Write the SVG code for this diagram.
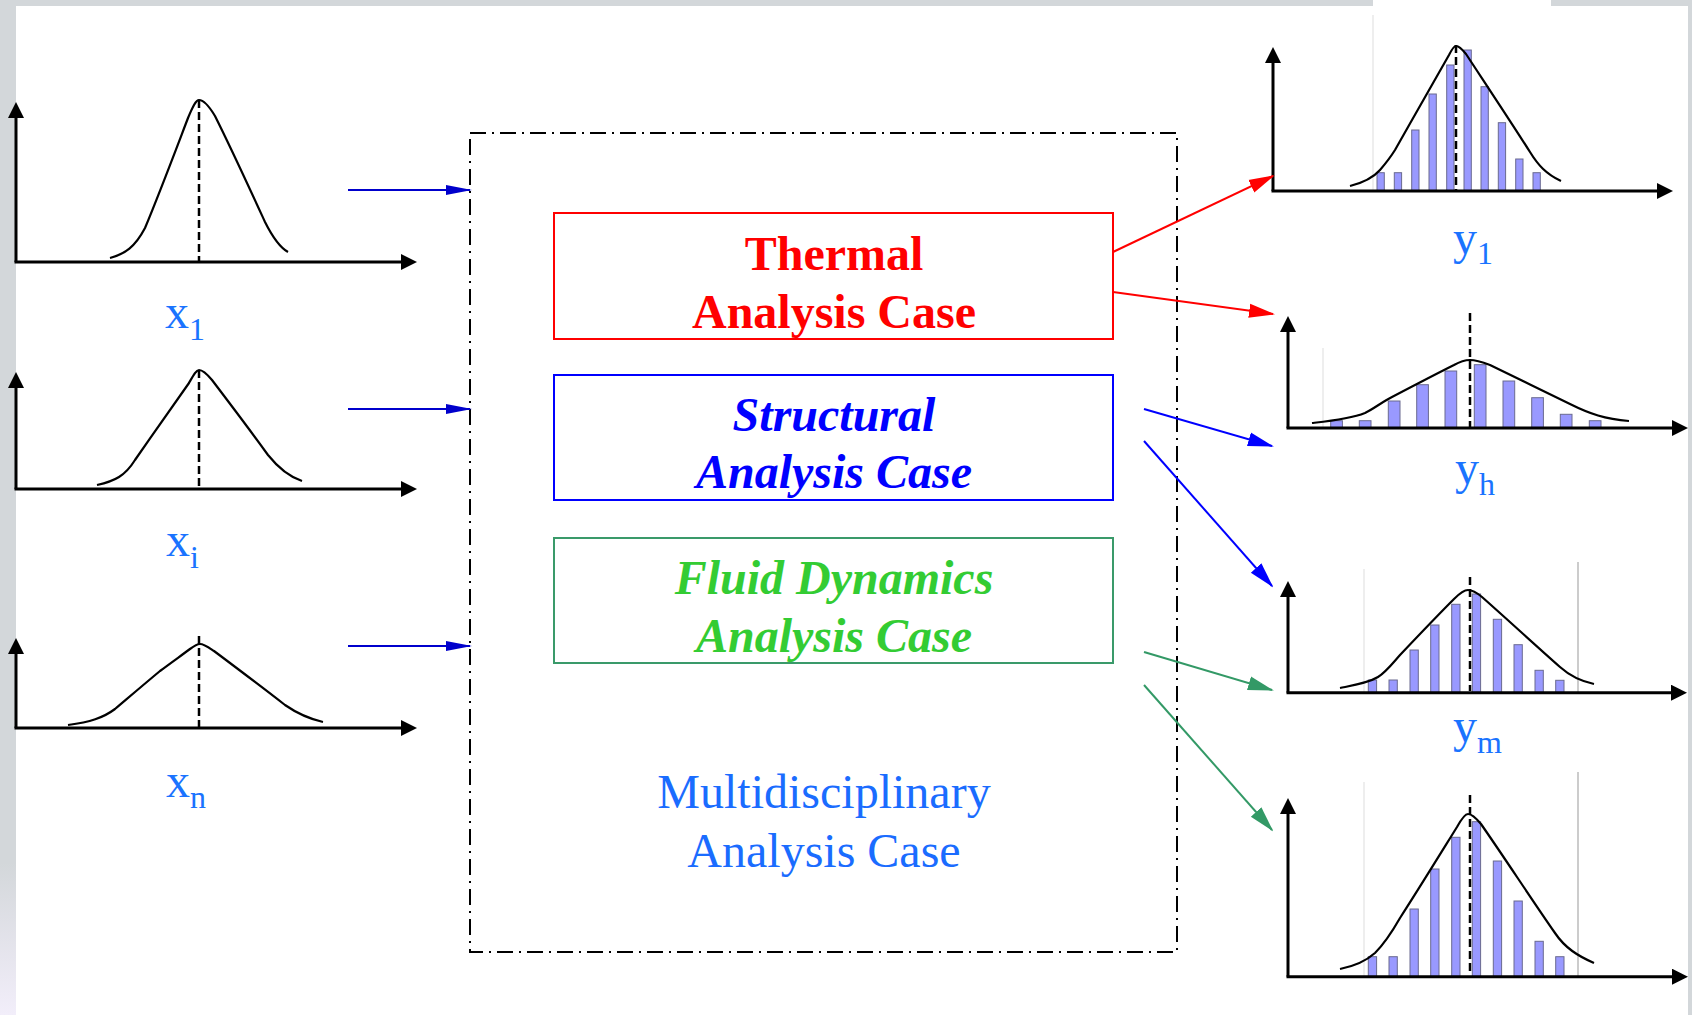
<svg xmlns="http://www.w3.org/2000/svg" width="1692" height="1015" viewBox="0 0 1692 1015">
<style>
.axis{stroke:#000;stroke-width:3;fill:none}
.curve{stroke:#000;stroke-width:2.2;fill:none;stroke-linejoin:round}
.mean{stroke:#000;stroke-width:2.5;stroke-dasharray:8 4;fill:none}
.grid{stroke:#dddddd;stroke-width:1}
.grid2{stroke:#999999;stroke-width:1}
.bar{fill:#9999ff;stroke:#6a6a90;stroke-width:1}
.lbl{font-family:"Liberation Serif","Times New Roman",serif;font-size:48px;fill:#1a73ff}
.sub{font-size:32px}
.case{font-family:"Liberation Serif","Times New Roman",serif;font-size:48px;text-anchor:middle}
.in{stroke:#0000cc;stroke-width:2;fill:none}
</style>
<defs>
<linearGradient id="side" x1="0" y1="0" x2="0" y2="1">
<stop offset="0" stop-color="#d3d7da"/>
<stop offset="0.85" stop-color="#d3d7da"/>
<stop offset="1" stop-color="#f2eefa"/>
</linearGradient>
<marker id="ax" markerUnits="userSpaceOnUse" markerWidth="16" markerHeight="16" refX="12" refY="8" orient="auto"><path d="M0,0 L16,8 L0,16 z" fill="#000"/></marker>
<marker id="ain" markerUnits="userSpaceOnUse" markerWidth="26" markerHeight="12" refX="24" refY="6" orient="auto"><path d="M0,1 L26,6 L0,11 z" fill="#0000cc"/></marker>
<marker id="ared" markerUnits="userSpaceOnUse" markerWidth="26" markerHeight="16" refX="24" refY="8" orient="auto"><path d="M0,1 L26,8 L0,15 z" fill="#ff0000"/></marker>
<marker id="ablue" markerUnits="userSpaceOnUse" markerWidth="26" markerHeight="16" refX="24" refY="8" orient="auto"><path d="M0,1 L26,8 L0,15 z" fill="#0000ff"/></marker>
<marker id="agreen" markerUnits="userSpaceOnUse" markerWidth="26" markerHeight="16" refX="24" refY="8" orient="auto"><path d="M0,1 L26,8 L0,15 z" fill="#339966"/></marker>
</defs>

<!-- background -->
<rect x="0" y="0" width="1692" height="1015" fill="#d3d7da"/>
<rect x="0" y="0" width="16" height="1015" fill="url(#side)"/>
<rect x="16" y="6" width="1672" height="1009" fill="#ffffff"/>
<rect x="1373" y="0" width="178" height="6" fill="#ffffff"/>

<!-- input distributions -->
<g id="x1-chart">
<line class="axis" x1="16" y1="262" x2="16" y2="106" marker-end="url(#ax)"/>
<line class="axis" x1="14.5" y1="262" x2="413" y2="262" marker-end="url(#ax)"/>
<line class="mean" x1="199" y1="100" x2="199" y2="261"/>
<path class="curve" d="M110,258 C125,254 135,247 145,228 C160,192 175,152 188,118 C193,106 196,100 199,100 C204,100 209,106 215,116 C232,150 248,185 265,222 C272,236 279,247 288,252"/>
<text class="lbl" x="165" y="328">x<tspan class="sub" dy="12">1</tspan></text>
</g>
<g id="xi-chart">
<line class="axis" x1="16" y1="489" x2="16" y2="376" marker-end="url(#ax)"/>
<line class="axis" x1="14.5" y1="489" x2="413" y2="489" marker-end="url(#ax)"/>
<line class="mean" x1="199" y1="370" x2="199" y2="488"/>
<path class="curve" d="M97,485 C115,481 125,476 135,460 C153,434 172,407 189,383 C193,376 196,370 199,370 C203,370 207,374 212,380 C231,405 250,430 268,455 C280,470 290,477 302,481"/>
<text class="lbl" x="166" y="556">x<tspan class="sub" dy="12">i</tspan></text>
</g>
<g id="xn-chart">
<line class="axis" x1="16" y1="728" x2="16" y2="642" marker-end="url(#ax)"/>
<line class="axis" x1="14.5" y1="728" x2="413" y2="728" marker-end="url(#ax)"/>
<line class="mean" x1="199" y1="636" x2="199" y2="727"/>
<path class="curve" d="M68,725 C90,722 103,718 115,709 C128,698 142,686 160,671 C172,662 182,655 190,649 C194,646 197,644 200,644 C204,644 208,647 214,651 C238,669 262,687 285,705 C298,714 310,719 323,722"/>
<text class="lbl" x="166" y="797">x<tspan class="sub" dy="11">n</tspan></text>
</g>

<!-- multidisciplinary container -->
<g id="mda">
<rect x="470" y="133" width="707" height="819" fill="none" stroke="#000" stroke-width="2" stroke-dasharray="16 6 2 6"/>
<text class="case" x="824" y="808" fill="#1a6cff">Multidisciplinary</text>
<text class="case" x="824" y="867" fill="#1a6cff">Analysis Case</text>
</g>
<g id="thermal">
<rect x="554" y="213" width="559" height="126" fill="#fff" stroke="#ff0000" stroke-width="2"/>
<text class="case" x="834" y="270" fill="#ff0000" font-weight="bold">Thermal</text>
<text class="case" x="834" y="328" fill="#ff0000" font-weight="bold">Analysis Case</text>
</g>
<g id="structural">
<rect x="554" y="375" width="559" height="125" fill="#fff" stroke="#0000ff" stroke-width="2"/>
<text class="case" x="834" y="431" fill="#0000ff" font-weight="bold" font-style="italic">Structural</text>
<text class="case" x="834" y="488" fill="#0000ff" font-weight="bold" font-style="italic">Analysis Case</text>
</g>
<g id="fluid">
<rect x="554" y="538" width="559" height="125" fill="#fff" stroke="#3a9a6a" stroke-width="2"/>
<text class="case" x="834" y="594" fill="#33cc33" font-weight="bold" font-style="italic">Fluid Dynamics</text>
<text class="case" x="834" y="652" fill="#33cc33" font-weight="bold" font-style="italic">Analysis Case</text>
</g>

<!-- output distributions -->
<g id="y1-chart">
<line class="grid" x1="1373" y1="15" x2="1373" y2="191"/>
<g class="bars">
<rect class="bar" x="1377" y="172.7" width="7.3" height="18.3"/>
<rect class="bar" x="1394.3" y="172.7" width="7.3" height="18.3"/>
<rect class="bar" x="1411.7" y="130" width="7.3" height="61"/>
<rect class="bar" x="1429" y="94" width="7.3" height="97"/>
<rect class="bar" x="1446.7" y="65" width="7.3" height="126"/>
<rect class="bar" x="1464" y="50" width="7.3" height="141"/>
<rect class="bar" x="1481" y="86.7" width="7.3" height="104.3"/>
<rect class="bar" x="1498.3" y="122.7" width="7.3" height="68.3"/>
<rect class="bar" x="1515.7" y="159" width="7.3" height="32"/>
<rect class="bar" x="1533" y="172.7" width="7.3" height="18.3"/>
</g>
<line class="mean" x1="1456" y1="45" x2="1456" y2="190"/>
<path class="curve" d="M1350,186 C1362,183 1372,179 1380,170 C1386,163 1390,158 1395,150 C1413,118 1432,85 1449,55 C1452,49 1454,46 1456,46 C1459,46 1462,49 1466,54 C1487,86 1509,119 1530,152 C1538,165 1546,174 1561,181"/>
<line class="axis" x1="1273" y1="191" x2="1273" y2="51" marker-end="url(#ax)"/>
<line class="axis" x1="1271.5" y1="191" x2="1669" y2="191" marker-end="url(#ax)"/>
<text class="lbl" x="1453" y="254">y<tspan class="sub" dy="10">1</tspan></text>
</g>
<g id="yh-chart">
<line class="grid" x1="1323" y1="348" x2="1323" y2="428"/>
<g class="bars">
<rect class="bar" x="1330.7" y="420.7" width="11.7" height="7.3"/>
<rect class="bar" x="1359.3" y="420.7" width="11.7" height="7.3"/>
<rect class="bar" x="1388.3" y="401" width="11.7" height="27"/>
<rect class="bar" x="1416.7" y="384.7" width="11.7" height="43.3"/>
<rect class="bar" x="1445" y="371" width="11.7" height="57"/>
<rect class="bar" x="1474.3" y="364.7" width="11.7" height="63.3"/>
<rect class="bar" x="1503" y="381" width="11.7" height="47"/>
<rect class="bar" x="1531.7" y="397.7" width="11.7" height="30.3"/>
<rect class="bar" x="1560.3" y="414.3" width="11.7" height="13.7"/>
<rect class="bar" x="1589.3" y="420.7" width="11.7" height="7.3"/>
</g>
<line class="mean" x1="1470" y1="313" x2="1470" y2="427"/>
<path class="curve" d="M1312,423 C1330,421 1350,419 1365,413 C1375,408 1382,402 1392,397 C1413,386 1434,375 1454,365 C1461,361 1466,360 1470,360 C1476,360 1482,362 1490,365 C1517,378 1543,391 1570,404 C1590,414 1605,419 1629,421"/>
<line class="axis" x1="1288" y1="428" x2="1288" y2="320" marker-end="url(#ax)"/>
<line class="axis" x1="1286.5" y1="428" x2="1684" y2="428" marker-end="url(#ax)"/>
<text class="lbl" x="1455" y="484">y<tspan class="sub" dy="11">h</tspan></text>
</g>
<g id="ym-chart">
<line class="grid" x1="1364" y1="569" x2="1364" y2="692"/>
<line class="grid2" x1="1578" y1="562" x2="1578" y2="692"/>
<g class="bars">
<rect class="bar" x="1368.3" y="680" width="8.3" height="12.7"/>
<rect class="bar" x="1389" y="680" width="8.3" height="12.7"/>
<rect class="bar" x="1410" y="650" width="8.3" height="42.7"/>
<rect class="bar" x="1430.7" y="625" width="8.3" height="67.7"/>
<rect class="bar" x="1451.7" y="604.3" width="8.3" height="88.4"/>
<rect class="bar" x="1472.3" y="594" width="8.3" height="98.7"/>
<rect class="bar" x="1493.3" y="619.3" width="8.3" height="73.4"/>
<rect class="bar" x="1514" y="644.7" width="8.3" height="48"/>
<rect class="bar" x="1535" y="670.3" width="8.3" height="22.4"/>
<rect class="bar" x="1555.7" y="680.3" width="8.3" height="12.4"/>
</g>
<line class="mean" x1="1470" y1="577" x2="1470" y2="691"/>
<path class="curve" d="M1340,688 C1355,685 1368,683 1378,677 C1386,672 1392,664 1400,655 C1418,636 1436,617 1454,599 C1460,593 1464,590 1468,590 C1472,590 1476,592 1482,597 C1508,620 1534,644 1560,667 C1570,676 1580,681 1594,684"/>
<line class="axis" x1="1288" y1="692.7" x2="1288" y2="585" marker-end="url(#ax)"/>
<line class="axis" x1="1286.5" y1="692.7" x2="1683" y2="692.7" marker-end="url(#ax)"/>
<text class="lbl" x="1453" y="742">y<tspan class="sub" dy="11">m</tspan></text>
</g>
<g id="y4-chart">
<line class="grid" x1="1364" y1="782" x2="1364" y2="976"/>
<line class="grid2" x1="1578" y1="772" x2="1578" y2="976"/>
<g class="bars">
<rect class="bar" x="1368.3" y="956.7" width="8.3" height="20"/>
<rect class="bar" x="1389" y="956.7" width="8.3" height="20"/>
<rect class="bar" x="1410" y="909" width="8.3" height="67.7"/>
<rect class="bar" x="1430.7" y="869" width="8.3" height="107.7"/>
<rect class="bar" x="1451.7" y="837.3" width="8.3" height="139.4"/>
<rect class="bar" x="1472.3" y="821.7" width="8.3" height="155"/>
<rect class="bar" x="1493.3" y="861" width="8.3" height="115.7"/>
<rect class="bar" x="1514" y="901" width="8.3" height="75.7"/>
<rect class="bar" x="1535" y="941.3" width="8.3" height="35.4"/>
<rect class="bar" x="1555.7" y="956.7" width="8.3" height="20"/>
</g>
<line class="mean" x1="1470" y1="795" x2="1470" y2="975"/>
<path class="curve" d="M1340,969 C1355,966 1366,961 1375,953 C1385,943 1392,932 1400,918 C1420,887 1439,856 1457,827 C1462,818 1465,814 1468,814 C1472,814 1476,818 1481,824 C1506,860 1530,897 1555,933 C1565,948 1578,956 1594,963"/>
<line class="axis" x1="1288" y1="976.7" x2="1288" y2="802" marker-end="url(#ax)"/>
<line class="axis" x1="1286.5" y1="976.7" x2="1684" y2="976.7" marker-end="url(#ax)"/>
</g>

<!-- connectors -->
<g id="connectors">
<line class="in" x1="348" y1="190" x2="470" y2="190" marker-end="url(#ain)"/>
<line class="in" x1="348" y1="409" x2="470" y2="409" marker-end="url(#ain)"/>
<line class="in" x1="348" y1="646" x2="470" y2="646" marker-end="url(#ain)"/>
<line x1="1113" y1="252" x2="1273" y2="176" stroke="#ff0000" stroke-width="2" marker-end="url(#ared)"/>
<line x1="1113" y1="292" x2="1273" y2="314" stroke="#ff0000" stroke-width="2" marker-end="url(#ared)"/>
<line x1="1144" y1="409" x2="1272" y2="446" stroke="#0000ff" stroke-width="2" marker-end="url(#ablue)"/>
<line x1="1144" y1="441" x2="1272" y2="586" stroke="#0000ff" stroke-width="2" marker-end="url(#ablue)"/>
<line x1="1144" y1="652" x2="1272" y2="690" stroke="#339966" stroke-width="2" marker-end="url(#agreen)"/>
<line x1="1144" y1="685" x2="1272" y2="830" stroke="#339966" stroke-width="2" marker-end="url(#agreen)"/>
</g>
</svg>
